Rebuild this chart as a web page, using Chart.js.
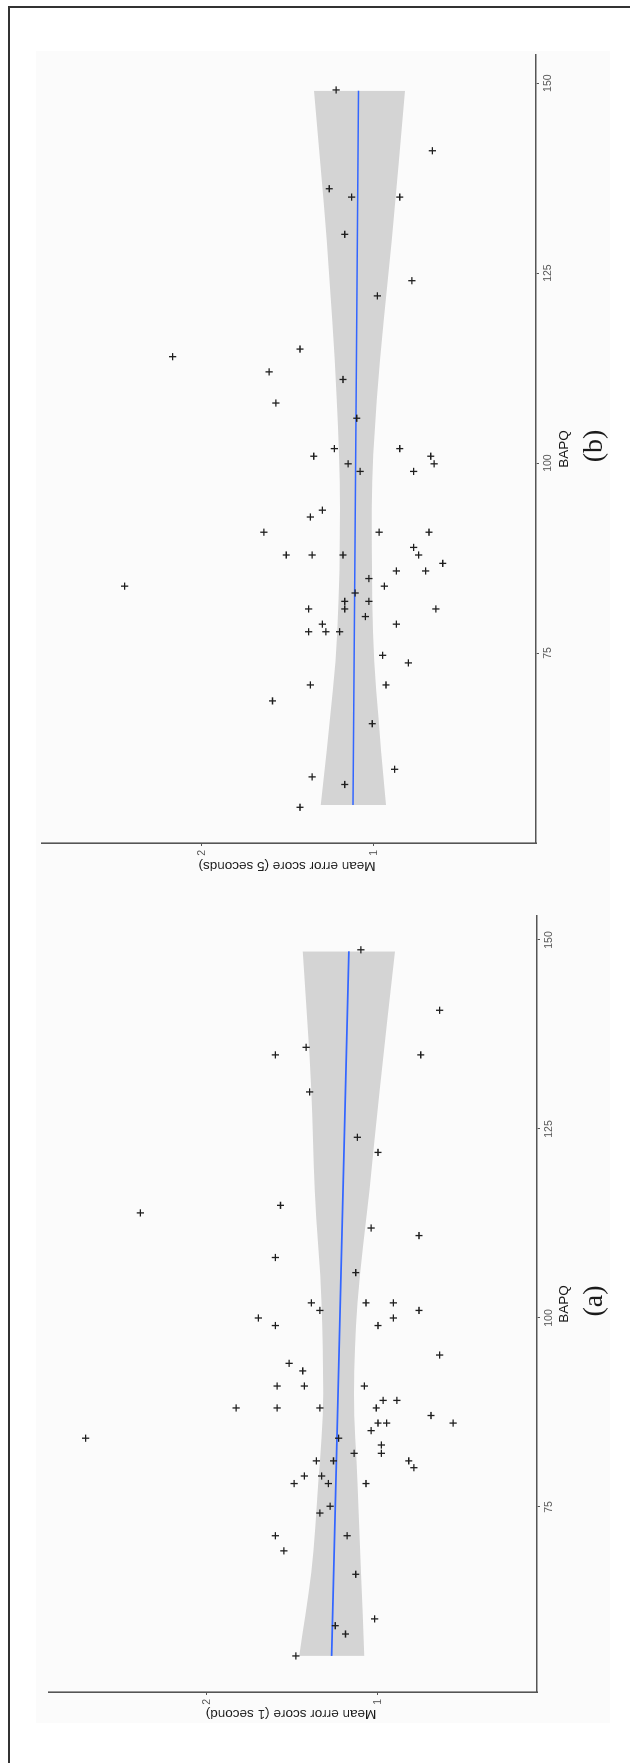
<!DOCTYPE html>
<html><head><meta charset="utf-8">
<script src="https://cdn.jsdelivr.net/npm/chart.js@4.4.1/dist/chart.umd.min.js"></script>
<style>
html,body{margin:0;padding:0;background:#fff;}
body{width:630px;height:1763px;position:relative;overflow:hidden;}
#paper{position:absolute;left:36px;top:51px;width:574px;height:1672px;background:#fbfbfb;}
#frame{position:absolute;left:8px;top:6px;width:640px;height:1790px;border-left:2px solid #333;border-top:2px solid #333;}
#stage{position:absolute;left:0;top:0;width:1763px;height:630px;transform-origin:0 0;transform:translate(0px,1763px) rotate(-90deg);}
#ca{position:absolute;left:0;top:0;}
#cb{position:absolute;left:880px;top:0;}
</style></head>
<body>
<div id="paper"></div>
<div id="frame"></div>
<div id="stage">
<canvas id="ca" width="880" height="630"></canvas>
<canvas id="cb" width="883" height="630"></canvas>
</div>
<script>
// ---- tick labels ----
const bapqTicks = [75, 100, 125, 150];
const errorTicks = [1, 2];

// ---- panel (a): 1 second ----
const aBapq = [148.7,140.7,135.8,134.8,134.8,129.9,123.9,121.9,114.9,113.9,111.9,110.9,108.0,106.0,102.0,101.0,102.0,102.0,101.0,100.0,99.0,99.0,100.0,
  95.1,94.0,93.0,91.0,91.0,91.0,89.1,89.1,88.1,88.1,88.1,88.1,87.1,86.1,86.1,86.1,85.1,84.1,84.1,83.2,82.1,82.1,81.1,81.1,81.1,80.2,79.1,79.1,78.1,78.1,78.1,75.1,74.2,71.2,71.2,69.2,66.1,60.2,59.3,58.2,55.3];
const aError = [1.10,0.64,1.42,1.60,0.75,1.40,1.12,1.00,1.57,2.39,1.04,0.76,1.60,1.13,1.39,1.34,1.07,0.91,0.76,1.70,1.60,1.00,0.91,
  0.64,1.52,1.44,1.59,1.43,1.08,0.97,0.89,1.83,1.59,1.34,1.01,0.69,1.00,0.95,0.56,1.04,2.71,1.23,0.98,0.98,1.14,1.36,1.26,0.82,0.79,1.43,1.33,1.49,1.29,1.07,1.28,1.34,1.60,1.18,1.55,1.13,1.02,1.25,1.19,1.48];
const aFitBapq = [55.3, 148.5];
const aFit = [1.271, 1.170];
const aBandBapq = [55.3, 66.3, 78.2, 90, 102, 116.9, 130.2, 148.5];
const aBandUpper = [1.46, 1.39, 1.35, 1.32, 1.33, 1.37, 1.39, 1.44];
const aBandLower = [1.08, 1.10, 1.12, 1.14, 1.12, 1.05, 0.99, 0.90];

// ---- panel (b): 5 seconds ----
const bBapq = [149.1,141.1,136.1,135.0,135.0,130.1,124.0,122.0,115.0,114.0,112.0,111.0,107.9,105.9,101.9,101.9,100.9,100.9,99.9,99.9,98.9,98.9,
  93.8,92.9,90.9,90.9,90.9,88.9,87.9,87.9,87.9,87.9,86.8,85.8,85.8,84.8,83.8,83.8,82.9,81.8,81.8,80.8,80.8,80.8,79.8,78.8,78.8,77.8,77.8,77.8,74.7,73.7,70.8,70.8,68.7,65.7,59.7,58.7,57.7,54.7];
const bError = [1.22,0.66,1.26,1.13,0.85,1.17,0.78,0.98,1.43,2.17,1.61,1.18,1.57,1.10,1.23,0.85,1.35,0.67,0.65,1.15,1.08,0.77,
  1.30,1.37,1.64,0.97,0.68,0.77,1.51,1.36,1.18,0.74,0.60,0.87,0.70,1.03,2.45,0.94,1.11,1.17,1.03,1.38,1.17,0.64,1.05,1.30,0.87,1.38,1.28,1.20,0.95,0.80,1.37,0.93,1.59,1.01,0.88,1.36,1.17,1.43];
const bFitBapq = [55, 149];
const bFit = [1.122, 1.090];
const bBandBapq = [55, 62.2, 77.8, 94, 108.3, 129.3, 149];
const bBandUpper = [1.31, 1.275, 1.213, 1.198, 1.217, 1.275, 1.349];
const bBandLower = [0.93, 0.959, 1.006, 1.013, 0.984, 0.897, 0.820];

const pts = (xs, ys) => xs.map((x, i) => ({x: x, y: ys[i]}));

const titlePlugin = {
  id: 'panelTitles',
  afterDraw(chart, args, o) {
    const ctx = chart.ctx, ca = chart.chartArea;
    const cx = (ca.left + ca.right) / 2;
    ctx.save();
    ctx.fillStyle = '#1a1a1a';
    ctx.textAlign = 'center';
    ctx.textBaseline = 'middle';
    ctx.font = '13.5px "Liberation Sans", Arial, sans-serif';
    ctx.fillText(o.xTitle, cx, ca.bottom + o.xOff);
    ctx.font = '28px "Liberation Serif", "Times New Roman", serif';
    ctx.fillText(o.panel, cx + 3, ca.bottom + o.pOff);
    ctx.translate(ca.left - o.yOff, (ca.top + ca.bottom) / 2 - 2);
    ctx.rotate(-Math.PI / 2);
    ctx.font = '13.5px "Liberation Sans", Arial, sans-serif';
    ctx.fillText(o.yTitle, 0, 0);
    ctx.restore();
  }
};

function makePanel(id, p) {
  const axisCol = '#555';
  new Chart(document.getElementById(id), {
    type: 'scatter',
    data: {
      datasets: [
        {data: pts(p.bapq, p.err), pointStyle: 'cross', pointRadius: 3.6, pointBorderWidth: 1.3,
         borderColor: '#1e1e1e', backgroundColor: '#1e1e1e'},
        {type: 'line', data: pts(p.fitX, p.fit), borderColor: '#3366FF', borderWidth: 1.7,
         pointRadius: 0, fill: false},
        {type: 'line', data: pts(p.bandX, p.up), borderColor: 'rgba(0,0,0,0)', borderWidth: 0,
         pointRadius: 0, backgroundColor: '#d4d4d4', fill: '+1', cubicInterpolationMode: 'monotone'},
        {type: 'line', data: pts(p.bandX, p.lo), borderColor: 'rgba(0,0,0,0)', borderWidth: 0,
         pointRadius: 0, fill: false, cubicInterpolationMode: 'monotone'}
      ]
    },
    options: {
      responsive: false, animation: false, devicePixelRatio: 1, events: [],
      layout: {padding: {left: 0, top: p.top, right: p.right, bottom: 0}},
      plugins: {legend: {display: false}, tooltip: {enabled: false},
        panelTitles: {xTitle: 'BAPQ', yTitle: p.yTitle, panel: p.panel, xOff: p.xOff, pOff: p.pOff, yOff: p.yOff}},
      scales: {
        x: {type: 'linear', min: p.xmin, max: p.xmax,
          afterBuildTicks: s => { s.ticks = bapqTicks.map(v => ({value: v})); },
          afterFit: s => { s.height = p.xh; },
          grid: {display: true, drawOnChartArea: false, drawTicks: true, tickLength: 3, tickColor: axisCol, tickWidth: 1},
          border: {display: true, color: axisCol, width: 1.6},
          ticks: {padding: 3, color: '#555', font: {size: 10.5, family: '"Liberation Sans", Arial, sans-serif'}, maxRotation: 0}
        },
        y: {type: 'linear', min: p.ymin, max: p.ymax,
          afterBuildTicks: s => { s.ticks = errorTicks.map(v => ({value: v})); },
          afterFit: s => { s.width = p.yw; },
          grid: {display: true, drawOnChartArea: false, drawTicks: true, tickLength: 3, tickColor: axisCol, tickWidth: 1},
          border: {display: true, color: axisCol, width: 1.6},
          ticks: {padding: 4, color: '#555', font: {size: 10.5, family: '"Liberation Sans", Arial, sans-serif'}}
        }
      }
    },
    plugins: [titlePlugin]
  });
}

makePanel('ca', {bapq: aBapq, err: aError, fitX: aFitBapq, fit: aFit, bandX: aBandBapq, up: aBandUpper, lo: aBandLower,
  xmin: 50.53, xmax: 153.17, ymin: 0.070, ymax: 2.924, top: 49, right: 33, xh: 93, yw: 71,
  yTitle: 'Mean error score (1 second)', panel: '(a)', xOff: 27, pOff: 58, yOff: 21.5});
makePanel('cb', {bapq: bBapq, err: bError, fitX: bFitBapq, fit: bFit, bandX: bBandBapq, up: bBandUpper, lo: bBandLower,
  xmin: 50.0, xmax: 153.7, ymin: 0.058, ymax: 2.93, top: 42, right: 55, xh: 94, yw: 40,
  yTitle: 'Mean error score (5 seconds)', panel: '(b)', xOff: 28, pOff: 58.5, yOff: 22.5});
</script>
</body></html>
